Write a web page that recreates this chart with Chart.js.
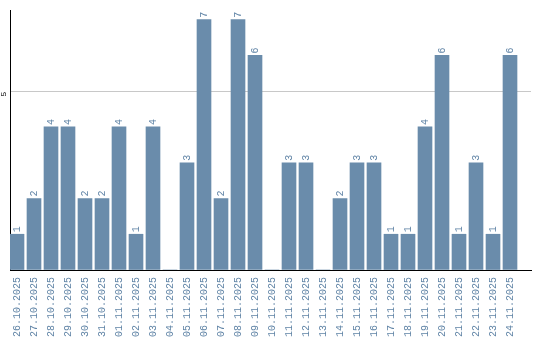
<!DOCTYPE html>
<html>
<head>
<meta charset="utf-8">
<script src="https://cdn.jsdelivr.net/npm/chart.js@4/dist/chart.umd.min.js"></script>
<style>
html,body{margin:0;padding:0;background:#fff;}
#wrap{width:540px;height:340px;}
</style>
</head>
<body>
<div id="wrap"><canvas id="c" width="540" height="340"></canvas></div>
<script>
const categories = ["26.10.2025","27.10.2025","28.10.2025","29.10.2025","30.10.2025","31.10.2025","01.11.2025","02.11.2025","03.11.2025","04.11.2025","05.11.2025","06.11.2025","07.11.2025","08.11.2025","09.11.2025","10.11.2025","11.11.2025","12.11.2025","13.11.2025","14.11.2025","15.11.2025","16.11.2025","17.11.2025","18.11.2025","19.11.2025","20.11.2025","21.11.2025","22.11.2025","23.11.2025","24.11.2025"];
const counts = [1,2,4,4,2,2,4,1,4,0,3,7,2,7,6,0,3,3,0,2,3,3,1,1,4,6,1,3,1,6];
const yTickValues = [0,5];

const BAR = '#6a8cab';
const TXT = '#6084a6';
const MONO = '"Liberation Mono", "DejaVu Sans Mono", monospace';

const labelPlugin = {
  id: 'labels',
  afterDatasetsDraw(chart) {
    const ctx = chart.ctx;
    const meta = chart.getDatasetMeta(0);
    ctx.save();
    ctx.font = '10px ' + MONO;
    ctx.fillStyle = TXT;
    meta.data.forEach((bar, i) => {
      const v = counts[i];
      if (!v) return;
      ctx.save();
      ctx.translate(bar.x, bar.y - 2);
      ctx.rotate(-Math.PI / 2);
      ctx.textAlign = 'left';
      ctx.textBaseline = 'middle';
      ctx.fillText(String(v), 0, 0);
      ctx.restore();
    });
    const ys = chart.scales.y;
    ctx.font = '8px ' + MONO;
    ctx.fillStyle = '#000';
    yTickValues.filter(v => v !== 0).forEach(v => {
      const py = ys.getPixelForValue(v);
      ctx.save();
      ctx.translate(4, py + 3);
      ctx.rotate(-Math.PI / 2);
      ctx.textAlign = 'center';
      ctx.textBaseline = 'middle';
      ctx.fillText(String(v), 0, 0);
      ctx.restore();
    });
    ctx.restore();
  }
};

new Chart(document.getElementById('c'), {
  type: 'bar',
  data: {
    datasets: [{
      data: counts.map((v, i) => ({x: i, y: v})),
      backgroundColor: BAR,
      barThickness: 14,
      borderWidth: 0
    }]
  },
  options: {
    responsive: false,
    animation: false,
    events: [],
    layout: {padding: {left: 10, right: 9, top: 10, bottom: 0}},
    plugins: {legend: {display: false}, tooltip: {enabled: false}},
    scales: {
      x: {
        type: 'linear',
        min: -7/17,
        max: 30.235,
        offset: false,
        afterBuildTicks: s => { s.ticks = categories.map((_, i) => ({value: i})); },
        afterFit: s => { s.height = 70; },
        ticks: {
          autoSkip: false,
          maxRotation: 90,
          minRotation: 90,
          padding: 7,
          color: TXT,
          font: {family: MONO, size: 10},
          callback: v => categories[v]
        },
        grid: {display: false, drawTicks: false},
        border: {display: true, color: '#000', width: 1}
      },
      y: {
        min: 0,
        max: 7.27,
        afterBuildTicks: s => { s.ticks = yTickValues.map(v => ({value: v})); },
        afterFit: s => { s.width = 0; },
        ticks: {display: false},
        grid: {color: '#c8c8c8', drawTicks: false, lineWidth: 1},
        border: {display: true, color: '#000', width: 1}
      }
    }
  },
  plugins: [labelPlugin]
});
</script>
</body>
</html>
